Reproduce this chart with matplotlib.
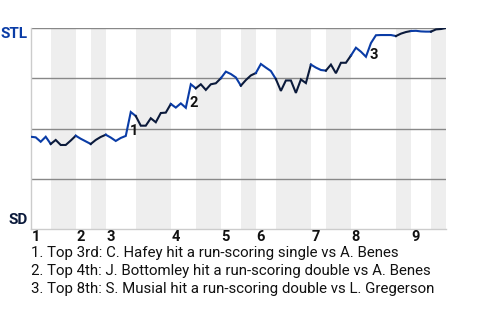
import matplotlib
matplotlib.use("Agg")
import matplotlib.pyplot as plt
import matplotlib.transforms as mtransforms

# ---- data ----
win_prob = [45.9, 45.6, 43.4, 45.9, 42.3, 44.3, 41.8, 41.8, 44.0, 46.4,
            44.9, 43.6, 42.3, 44.3, 45.8, 46.9, 45.5, 43.8, 45.3, 46.3,
            58.2, 56.2, 51.4, 51.4, 55.1, 53.1, 57.7, 57.9, 62.2, 60.4,
            62.5, 60.3, 72.0, 70.0, 72.0, 69.2, 72.0, 72.5, 75.0, 78.3,
            77.1, 75.4, 71.3, 74.1, 76.4, 77.6, 82.1, 80.3, 78.6, 74.6,
            68.7, 73.9, 73.9, 67.7, 74.4, 72.6, 81.8, 80.3, 79.1, 78.8,
            81.8, 77.5, 82.7, 82.7, 86.3, 90.2, 88.2, 85.7, 92.5, 96.4,
            96.5, 96.5, 96.5, 96.0, 97.2, 98.0, 98.5, 98.6, 98.3, 98.2,
            98.2, 99.3, 99.5, 100.0]
half_bounds = [0, 4, 9, 12, 15, 21, 28, 33, 38, 42, 45, 49, 56, 59, 64, 73, 76, 80, 83]
inning_labels = ["1", "2", "3", "4", "5", "6", "7", "8", "9"]
event_idx = [20, 32, 68]
event_label_y = [48.8, 62.9, 86.6]
event_notes = [
    "1. Top 3rd: C. Hafey hit a run-scoring single vs A. Benes",
    "2. Top 4th: J. Bottomley hit a run-scoring double vs A. Benes",
    "3. Top 8th: S. Musial hit a run-scoring double vs L. Gregerson",
]
team_top = "STL"
team_bottom = "SD"

# ---- style ----
FONT = "Roboto"
BLUE = "#0a3ca6"
NAVY = "#0b1a3b"
plt.rcParams['font.family'] = [FONT, 'DejaVu Sans']

fig = plt.figure(figsize=(4.8, 3.2), dpi=100)
ax = fig.add_axes([30.7 / 480, 1 - 229 / 320, (446 - 30.7) / 480, (229 - 28) / 320])
ax.set_xlim(half_bounds[0], half_bounds[-1])
ax.set_ylim(0, 100)

# bands for bottom halves
for i in range(1, len(half_bounds) - 1, 2):
    ax.axvspan(half_bounds[i], half_bounds[i + 1], color="#eeeeee", lw=0, zorder=0)

for yv in [25, 50, 75, 100]:
    ax.axhline(yv, color="#888888", lw=1.0, zorder=1)

xs = list(range(len(win_prob)))
for i in range(len(half_bounds) - 1):
    a, b = half_bounds[i], half_bounds[i + 1]
    ax.plot(xs[a:b + 1], win_prob[a:b + 1], color=BLUE if i % 2 == 0 else NAVY,
            lw=1.5, solid_joinstyle="miter", zorder=3)

for k, (ei, ly) in enumerate(zip(event_idx, event_label_y)):
    ax.text(ei + 0.6, ly, str(k + 1), ha="center", va="center",
            fontsize=10.5, fontweight="bold", color="#111111", zorder=4)

for sp in ["top", "right"]:
    ax.spines[sp].set_visible(False)
for sp in ["left", "bottom"]:
    ax.spines[sp].set_color("#cccccc")
    ax.spines[sp].set_linewidth(1.0)
ax.set_xticks([])
ax.set_yticks([])

# team labels
off = mtransforms.offset_copy(ax.transAxes, fig=fig, x=-3, y=0, units="dots")
ax.text(0, 96.9 / 100, team_top, transform=off, ha="right", va="center",
        fontsize=11, fontweight="bold", color=BLUE)
ax.text(0, 4.5 / 100, team_bottom, transform=off, ha="right", va="center",
        fontsize=11, fontweight="bold", color=NAVY)

# inning labels
trans = mtransforms.blended_transform_factory(ax.transData, ax.transAxes)
trans_off = mtransforms.offset_copy(trans, fig=fig, x=0, y=-8, units="dots")
tops = half_bounds[0:-1:2]
for lab, t in zip(inning_labels, tops):
    ax.text(t + 1, 0, lab, transform=trans_off, ha="center", va="center",
            fontsize=10.5, fontweight="bold", color="#111111")

# notes
for j, note in enumerate(event_notes):
    fig.text(31 / 480, 1 - (253.5 + 18 * j) / 320, note, ha="left", va="center",
             fontsize=10.8, color="#111111")

fig.savefig("out.png", dpi=100)
